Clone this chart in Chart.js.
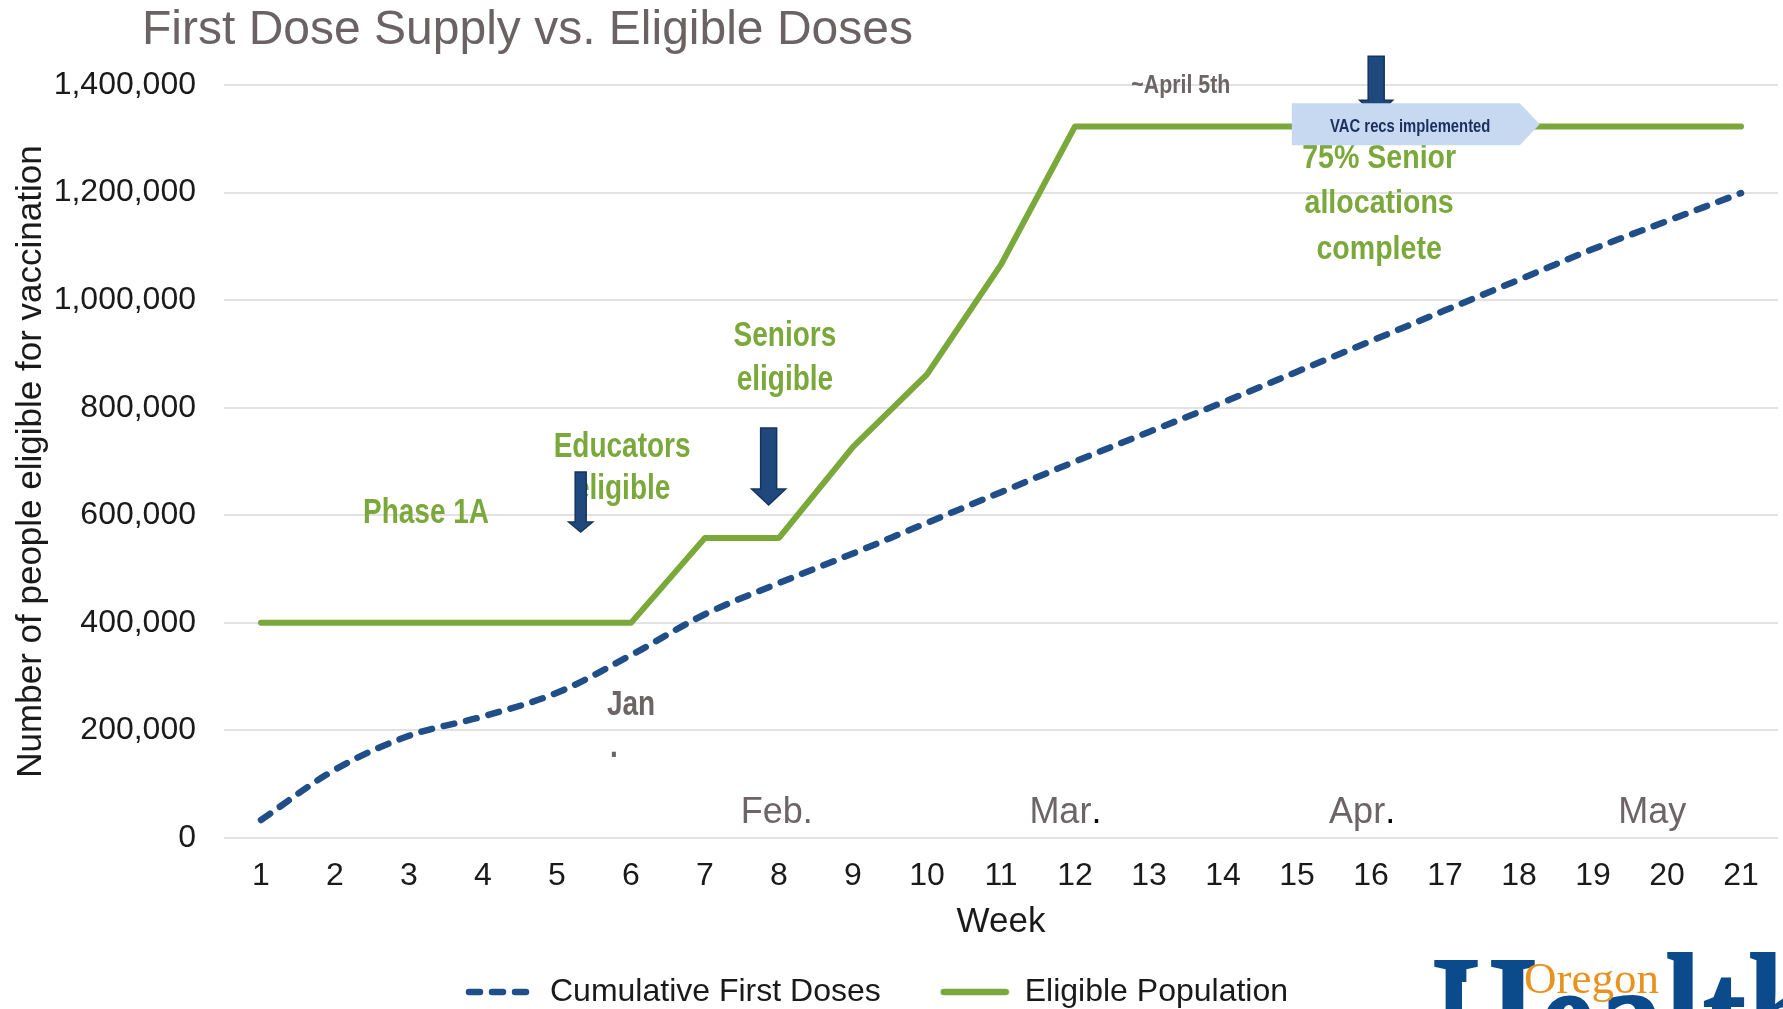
<!DOCTYPE html>
<html>
<head>
<meta charset="utf-8">
<title>First Dose Supply vs. Eligible Doses</title>
<script src="https://cdn.jsdelivr.net/npm/chart.js@4.4.1/dist/chart.umd.min.js"></script>
<style>
  html, body { margin: 0; padding: 0; background: #fff; }
  #chart { display: block; }
</style>
</head>
<body>
<canvas id="chart" width="1783" height="1009"></canvas>
<script>
// chart data
const weeks = ['1', '2', '3', '4', '5', '6', '7', '8', '9', '10', '11', '12', '13', '14', '15', '16', '17', '18', '19', '20', '21'];
const cumulativeFirstDoses = [33500, 127000, 190000, 226000, 270000, 340000, 416000, 474000, 529000, 586000, 643000, 700000, 755000, 810000, 867000, 924000, 981000, 1038000, 1095000, 1147000, 1199000];
const eligiblePopulation = [400000, 400000, 400000, 400000, 400000, 400000, 558000, 558000, 727000, 862000, 1066000, 1323000, 1323000, 1323000, 1323000, 1323000, 1323000, 1323000, 1323000, 1323000, 1323000];
const yTicks = [0, 200000, 400000, 600000, 800000, 1000000, 1200000, 1400000];

const GREEN = '#7aa83b';
const BLUE = '#1f4e89';
const GREY = '#6d6466';
const SANS = '"Liberation Sans", Arial, sans-serif';
const SERIF = '"Liberation Serif", "Times New Roman", serif';

// slide call-outs, placed by week / value
const greenNotes = [
    ['Phase 1A', 3.23, 585500],
    ['Educators', 5.88, 708200],
    ['eligible', 5.88, 630100],
    ['Seniors', 8.08, 914500],
    ['eligible', 8.08, 832700],
    ['75% Senior', 16.11, 1245300],
    ['allocations', 16.11, 1161700],
    ['complete', 16.11, 1077000],
];
const monthNotes = [
    [[['Feb.', GREY]], 7.97],
    [[['Mar', GREY], ['.', '#000']], 11.87],
    [[['Apr', GREY], ['.', '#000']], 15.88],
    [[['May', GREY]], 19.80],
];
// week, shaft top, head start, tip, shaft width, head width
const arrows = [
    [5.32, 680300, 587400, 568800, 11, 24],
    [7.86, 762100, 648700, 619000, 16, 34],
];
const vacArrow = [16.07, 1453500, 1371700, 1342000, 16, 33];

function fmt(v) {
    return String(v).replace(/\B(?=(\d{3})+(?!\d))/g, ',');
}

// little line samples for the legend (dashed / solid)
function legendSample(color, dash) {
    const c = document.createElement('canvas');
    c.width = 70;
    c.height = 10;
    const g = c.getContext('2d');
    g.strokeStyle = color;
    g.lineWidth = 6.5;
    g.lineCap = 'round';
    g.setLineDash(dash);
    g.beginPath();
    g.moveTo(4, 5);
    g.lineTo(66, 5);
    g.stroke();
    return c;
}
const legendSamples = [legendSample(BLUE, [11, 12]), legendSample(GREEN, [])];

function narrowText(ctx, text, cx, baseline, font, color, sx) {
    ctx.save();
    ctx.font = font;
    ctx.fillStyle = color;
    ctx.textAlign = 'center';
    ctx.textBaseline = 'alphabetic';
    ctx.translate(cx, baseline);
    ctx.scale(sx, 1);
    ctx.fillText(text, 0, 0);
    ctx.restore();
}

function drawArrow(ctx, cx, yTop, yHead, yTip, shaftW, headW) {
    const s = shaftW / 2, h = headW / 2;
    ctx.save();
    ctx.beginPath();
    ctx.moveTo(cx - s, yTop);
    ctx.lineTo(cx + s, yTop);
    ctx.lineTo(cx + s, yHead);
    ctx.lineTo(cx + h, yHead);
    ctx.lineTo(cx, yTip);
    ctx.lineTo(cx - h, yHead);
    ctx.lineTo(cx - s, yHead);
    ctx.closePath();
    ctx.fillStyle = '#1f497d';
    ctx.fill();
    ctx.lineWidth = 1.5;
    ctx.strokeStyle = '#15355e';
    ctx.stroke();
    ctx.restore();
}

const slidePlugin = {
    id: 'slide',
    beforeDraw(chart) {
        const ctx = chart.ctx;
        ctx.save();
        ctx.fillStyle = '#fff';
        ctx.fillRect(0, 0, chart.width, chart.height);
        ctx.restore();
    },
    afterDraw(chart) {
        const { ctx, scales: { x, y } } = chart;
        const px = (w) => x.getPixelForValue(w - 1);
        const py = (v) => y.getPixelForValue(v);

        // title
        ctx.save();
        ctx.font = '48px ' + SANS;
        ctx.fillStyle = '#6b6264';
        ctx.textAlign = 'left';
        ctx.textBaseline = 'alphabetic';
        ctx.fillText('First Dose Supply vs. Eligible Doses', 142, 44);
        ctx.restore();

        greenNotes.forEach(([t, w, v], i) => {
            const big = i >= 5;
            narrowText(ctx, t, px(w), py(v), 'bold ' + (big ? 34 : 35) + 'px ' + SANS, GREEN, big ? 0.84 : 0.8);
        });

        narrowText(ctx, '~April 5th', px(13.43), py(1385300), 'bold 26px ' + SANS, GREY, 0.82);
        narrowText(ctx, 'Jan', px(6.0), py(228600), 'bold 35px ' + SANS, GREY, 0.8);
        narrowText(ctx, '.', px(5.77), py(150600), 'bold 35px ' + SANS, GREY, 0.8);

        // month labels, some with a black full stop
        ctx.save();
        ctx.font = '36px ' + SANS;
        ctx.textAlign = 'left';
        ctx.textBaseline = 'alphabetic';
        monthNotes.forEach(([parts, w]) => {
            const total = parts.reduce((s, p) => s + ctx.measureText(p[0]).width, 0);
            let cx = px(w) - total / 2;
            parts.forEach(([t, c]) => {
                ctx.fillStyle = c;
                ctx.fillText(t, cx, py(27900));
                cx += ctx.measureText(t).width;
            });
        });
        ctx.restore();

        arrows.forEach(([w, a, b, c, sw, hw]) => drawArrow(ctx, px(w), py(a), py(b), py(c), sw, hw));

        // VAC callout
        const [aw, aa, ab, ac, asw, ahw] = vacArrow;
        drawArrow(ctx, px(aw), py(aa), py(ab), py(ac), asw, ahw);
        const xl = px(14.93), xr = px(18.01), xt = px(18.28);
        const yt = py(1366000), yb = py(1288000);
        ctx.save();
        ctx.beginPath();
        ctx.moveTo(xl, yt);
        ctx.lineTo(xr, yt);
        ctx.lineTo(xt, (yt + yb) / 2);
        ctx.lineTo(xr, yb);
        ctx.lineTo(xl, yb);
        ctx.closePath();
        ctx.fillStyle = '#c6d9f1';
        ctx.fill();
        ctx.restore();
        narrowText(ctx, 'VAC recs implemented', px(16.53), py(1312800), 'bold 19px ' + SANS, '#1b2f5c', 0.78);

        // Oregon Health logo, cut by the slide edge (only the tops of the letters show)
        ctx.save();
        ctx.beginPath();
        ctx.rect(0, 0, chart.width, chart.height);
        ctx.rect(1462, 982, 36, 40);
        ctx.clip('evenodd');
        ctx.font = 'bold 190px ' + SERIF;
        ctx.fillStyle = '#0b4a8b';
        ctx.textAlign = 'left';
        ctx.textBaseline = 'alphabetic';
        ctx.translate(1432, 1085);
        ctx.scale(0.71, 1);
        ctx.fillText('Health', 0, 0);
        ctx.restore();
        ctx.save();
        ctx.font = '45px ' + SERIF;
        ctx.fillStyle = '#e8931f';
        ctx.textAlign = 'left';
        ctx.textBaseline = 'alphabetic';
        ctx.fillText('Oregon', 1524, 993);
        ctx.restore();
    }
};

Chart.defaults.font.family = SANS;

const ctx = document.getElementById('chart').getContext('2d');
const chart = new Chart(ctx, {
    type: 'line',
    data: {
        labels: weeks,
        datasets: [
            {
                label: 'Cumulative First Doses',
                data: cumulativeFirstDoses,
                borderColor: BLUE,
                backgroundColor: BLUE,
                borderWidth: 6.5,
                borderDash: [11, 12],
                borderCapStyle: 'round',
                tension: 0.35,
                pointRadius: 0,
                fill: false,
            },
            {
                label: 'Eligible Population',
                data: eligiblePopulation,
                borderColor: GREEN,
                backgroundColor: GREEN,
                borderWidth: 6,
                borderCapStyle: 'round',
                borderJoinStyle: 'round',
                tension: 0,
                pointRadius: 0,
                fill: false,
            }
        ]
    },
    options: {
        responsive: false,
        animation: false,
        layout: { padding: { top: 85, right: 5, bottom: -9, left: -24 } },
        plugins: {
            title: { display: false },
            tooltip: { enabled: false },
            legend: {
                position: 'bottom',
                labels: {
                    usePointStyle: true,
                    pointStyleWidth: 68,
                    padding: 60,
                    color: '#1a1a1a',
                    font: { size: 32 },
                    generateLabels: (c) => {
                        const items = Chart.defaults.plugins.legend.labels.generateLabels(c);
                        items.forEach((it, i) => { it.pointStyle = legendSamples[i]; });
                        return items;
                    }
                }
            }
        },
        scales: {
            x: {
                offset: true,
                grid: { display: false, drawTicks: false },
                border: { display: false },
                ticks: { color: '#1a1a1a', font: { size: 32 }, padding: 19, autoSkip: false, maxRotation: 0 },
                title: { display: true, text: 'Week', color: '#1a1a1a', font: { size: 35 }, padding: { top: 0, bottom: -27.5 } },
                afterFit: (scale) => { scale.height = 78; }
            },
            y: {
                min: 0,
                max: 1400000,
                grid: { color: '#e2e2e2', lineWidth: 2, drawTicks: false },
                border: { display: false },
                afterBuildTicks: (scale) => { scale.ticks = yTicks.map(v => ({ value: v })); },
                ticks: { color: '#1a1a1a', font: { size: 32 }, padding: 28, callback: (v) => fmt(v) },
                title: { display: true, text: 'Number of people eligible for vaccination', color: '#1a1a1a', font: { size: 35 }, padding: { top: 34, bottom: 0 } },
                afterFit: (scale) => { scale.width = 248; }
            }
        }
    },
    plugins: [slidePlugin]
});
</script>
</body>
</html>
